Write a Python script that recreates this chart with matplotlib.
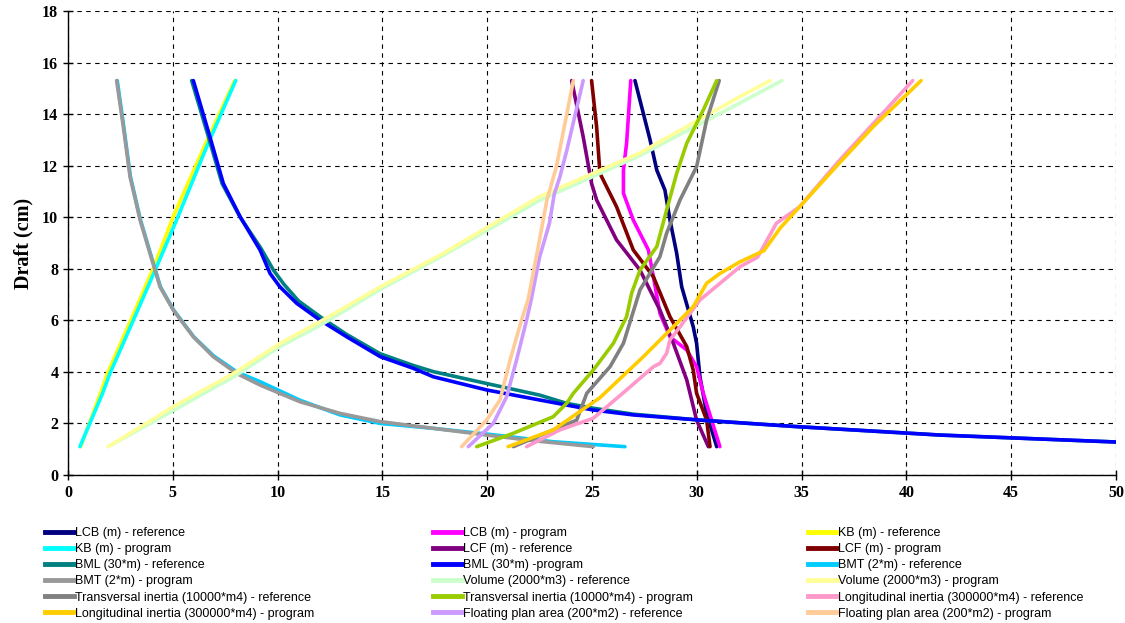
import matplotlib
matplotlib.use("Agg")
import matplotlib.pyplot as plt
from matplotlib.lines import Line2D

# ---- data (x value, draft) ----
lcb_ref_x = [27.05, 27.77, 28.09, 28.48, 28.72, 29.04, 29.28, 29.83, 29.99, 30.15, 30.47, 30.95]
lcb_ref_y = [15.3, 13.0, 11.83, 11.05, 9.89, 8.6, 7.3, 5.75, 5.11, 3.81, 2.39, 1.1]
lcb_prog_x = [26.85, 26.65, 26.5, 26.5, 26.97, 27.69, 27.93, 28.24, 28.72, 29.52, 29.99, 30.31, 31.1]
lcb_prog_y = [15.3, 12.87, 11.83, 10.93, 9.89, 8.73, 7.69, 6.27, 5.36, 4.85, 4.2, 3.17, 1.1]
kb_ref_x = [0.6, 1.55, 1.88, 3.0, 4.1, 5.02, 6.5, 7.95]
kb_ref_y = [1.1, 3.17, 3.94, 6.01, 8.08, 10.02, 12.74, 15.3]
kb_prog_x = [0.57, 1.65, 2.0, 3.12, 4.23, 5.18, 6.62, 8.0]
kb_prog_y = [1.1, 3.17, 3.94, 6.01, 8.08, 9.89, 12.74, 15.3]
lcf_ref_x = [24.03, 24.58, 24.98, 25.22, 26.17, 27.29, 28.24, 28.88, 29.52, 29.99, 30.55]
lcf_ref_y = [15.3, 13.12, 11.31, 10.67, 9.12, 7.95, 6.4, 5.11, 3.69, 2.13, 1.1]
lcf_prog_x = [24.98, 25.22, 25.38, 26.17, 26.97, 27.93, 28.72, 29.52, 29.83, 29.99, 30.47, 30.63]
lcf_prog_y = [15.3, 13.51, 11.7, 10.41, 8.73, 7.69, 6.14, 4.98, 4.07, 3.17, 2.13, 1.1]
bml_ref_x = [5.9, 6.7, 7.35, 8.2, 9.2, 9.8, 10.3, 11.0, 12.1, 13.3, 14.9, 16.47, 17.43, 19.97, 22.5, 23.79, 25.06, 26.97, 30.15, 34.9, 41.6, 50.0]
bml_ref_y = [15.3, 13.12, 11.31, 10.02, 8.8, 7.95, 7.4, 6.75, 6.1, 5.45, 4.7, 4.25, 4.01, 3.55, 3.1, 2.78, 2.59, 2.36, 2.13, 1.87, 1.55, 1.28]
bml_prog_x = [5.98, 6.77, 7.41, 8.21, 9.16, 9.64, 10.11, 10.91, 12.02, 13.3, 14.9, 16.47, 17.43, 19.97, 22.5, 25.06, 26.97, 30.15, 34.9, 41.6, 50.0]
bml_prog_y = [15.3, 13.12, 11.31, 10.02, 8.73, 7.82, 7.3, 6.66, 6.01, 5.36, 4.59, 4.14, 3.81, 3.3, 2.91, 2.52, 2.33, 2.13, 1.87, 1.55, 1.28]
bmt_ref_x = [2.35, 2.66, 2.98, 3.46, 3.93, 4.41, 5.04, 6.0, 6.95, 8.07, 9.16, 11.07, 12.98, 14.9, 17.43, 19.97, 23.15, 26.57]
bmt_ref_y = [15.3, 13.51, 11.57, 9.89, 8.6, 7.3, 6.4, 5.36, 4.62, 3.99, 3.62, 2.9, 2.33, 2.0, 1.81, 1.59, 1.29, 1.1]
bmt_prog_x = [2.32, 2.64, 2.96, 3.44, 3.91, 4.39, 5.02, 5.98, 6.93, 8.05, 9.16, 11.07, 12.98, 14.9, 17.43, 19.97, 22.2, 25.06]
bmt_prog_y = [15.3, 13.51, 11.57, 9.89, 8.6, 7.3, 6.4, 5.36, 4.59, 3.94, 3.49, 2.84, 2.39, 2.07, 1.81, 1.55, 1.33, 1.1]
vol_ref_x = [1.92, 5.02, 7.89, 10.11, 12.02, 14.9, 17.75, 22.5, 27.3, 32.1, 34.06]
vol_ref_y = [1.1, 2.5, 3.8, 4.98, 5.8, 7.2, 8.45, 10.65, 12.4, 14.45, 15.3]
vol_prog_x = [1.92, 5.02, 7.89, 10.11, 12.02, 14.9, 17.75, 22.5, 27.3, 32.1, 33.5]
vol_prog_y = [1.1, 2.65, 3.94, 5.1, 5.95, 7.3, 8.53, 10.8, 12.5, 14.7, 15.3]
tin_ref_x = [31.07, 30.47, 29.99, 29.2, 28.56, 28.24, 27.29, 26.5, 25.86, 24.75, 24.27, 23.15, 21.25]
tin_ref_y = [15.3, 13.77, 11.96, 10.67, 9.38, 8.47, 7.18, 5.11, 4.2, 3.17, 2.13, 1.75, 1.1]
tin_prog_x = [30.95, 30.31, 29.52, 29.04, 28.56, 28.09, 27.29, 26.89, 26.65, 26.02, 25.06, 24.11, 23.79, 23.15, 21.25, 19.5]
tin_prog_y = [15.3, 14.16, 12.87, 11.7, 10.28, 8.86, 7.95, 7.05, 6.14, 5.11, 4.07, 3.17, 2.78, 2.26, 1.62, 1.1]
lin_ref_x = [21.88, 23.47, 25.06, 26.65, 27.93, 28.24, 28.56, 28.72, 29.2, 30.15, 32.06, 32.9, 33.8, 34.9, 36.8, 40.3]
lin_ref_y = [1.1, 1.75, 2.2, 3.3, 4.2, 4.33, 4.72, 5.24, 5.75, 6.79, 8.08, 8.45, 9.77, 10.4, 12.2, 15.3]
lin_prog_x = [21.0, 23.15, 25.38, 27.45, 28.88, 29.83, 30.47, 31.11, 32.06, 33.2, 34.0, 34.9, 36.8, 38.4, 40.7]
lin_prog_y = [1.1, 1.75, 3.0, 4.59, 5.75, 6.53, 7.44, 7.82, 8.27, 8.7, 9.6, 10.4, 12.1, 13.5, 15.3]
fpa_ref_x = [19.1, 20.29, 20.93, 21.4, 21.88, 22.1, 22.5, 22.97, 23.2, 23.47, 23.8, 24.58]
fpa_ref_y = [1.1, 2.0, 3.04, 4.46, 6.01, 6.8, 8.45, 9.77, 10.9, 11.57, 12.6, 15.3]
fpa_prog_x = [18.78, 19.97, 20.61, 21.09, 21.64, 21.95, 22.4, 22.85, 23.3, 24.11]
fpa_prog_y = [1.1, 2.13, 2.91, 4.46, 6.01, 6.8, 8.7, 10.67, 11.95, 15.3]

labels = [
    "LCB (m) - reference", "LCB (m) - program", "KB (m) - reference",
    "KB (m) - program", "LCF (m) - reference", "LCF (m) - program",
    "BML (30*m) - reference", "BML (30*m) -program", "BMT (2*m) - reference",
    "BMT (2*m) - program", "Volume (2000*m3) - reference", "Volume (2000*m3) - program",
    "Transversal inertia (10000*m4) - reference", "Transversal inertia (10000*m4) - program",
    "Longitudinal inertia (300000*m4) - reference",
    "Longitudinal inertia (300000*m4) - program", "Floating plan area (200*m2) - reference",
    "Floating plan area (200*m2) - program",
]
colors = [
    "#000080", "#FF00FF", "#FFFF00", "#00FFFF", "#800080", "#800000",
    "#008080", "#0000FF", "#00CCFF", "#999999", "#CCFFCC", "#FFFF99",
    "#808080", "#99CC00", "#FF99CC", "#FFCC00", "#CC99FF", "#FFCC99",
]
series = [
    (lcb_ref_x, lcb_ref_y), (lcb_prog_x, lcb_prog_y), (kb_ref_x, kb_ref_y),
    (kb_prog_x, kb_prog_y), (lcf_ref_x, lcf_ref_y), (lcf_prog_x, lcf_prog_y),
    (bml_ref_x, bml_ref_y), (bml_prog_x, bml_prog_y), (bmt_ref_x, bmt_ref_y),
    (bmt_prog_x, bmt_prog_y), (vol_ref_x, vol_ref_y), (vol_prog_x, vol_prog_y),
    (tin_ref_x, tin_ref_y), (tin_prog_x, tin_prog_y), (lin_ref_x, lin_ref_y),
    (lin_prog_x, lin_prog_y), (fpa_ref_x, fpa_ref_y), (fpa_prog_x, fpa_prog_y),
]

fig = plt.figure(figsize=(11.25, 6.23), dpi=100)
ax = fig.add_axes([68 / 1125, 1 - 475 / 623, (1116 - 68) / 1125, (475 - 11) / 623])

for (xs, ys), c, lab in zip(series, colors, labels):
    ax.plot(xs, ys, color=c, lw=2.6, label=lab,
            solid_joinstyle="round", solid_capstyle="round", clip_on=True)

ax.set_xlim(0, 50)
ax.set_ylim(0, 18)
ax.set_xticks(range(0, 51, 5))
ax.set_yticks(range(0, 19, 2))
ax.grid(True, color="black", linestyle=(0, (4, 4)), linewidth=0.8)
ax.set_axisbelow(True)
for s in ["top", "right"]:
    ax.spines[s].set_visible(False)
for s in ["left", "bottom"]:
    ax.spines[s].set_linewidth(1.0)

serif = ["Liberation Serif", "DejaVu Serif"]
ax.tick_params(direction="inout", length=7, width=1)
for lab in ax.get_xticklabels() + ax.get_yticklabels():
    lab.set_fontfamily(serif)
    lab.set_fontweight("bold")
    lab.set_fontsize(11.5)
ax.set_ylabel("Draft (cm)", fontfamily=serif, fontweight="bold", fontsize=14.5, labelpad=6)

# legend: three columns placed explicitly, row-major order
leg_font = {"family": ["Liberation Sans Narrow", "Liberation Sans", "DejaVu Sans"], "size": 9}
col_x = [45 / 1125, 433 / 1125, 808 / 1125]
for ci in range(3):
    hs = [Line2D([], [], color=colors[i], lw=3.5) for i in range(ci, 18, 3)]
    ls = [labels[i] for i in range(ci, 18, 3)]
    fig.legend(hs, ls, loc="upper left", bbox_to_anchor=(col_x[ci], 1 - 527 / 623),
               frameon=False, prop=leg_font, handlelength=2.3, handletextpad=0.1,
               labelspacing=0.33, borderpad=0.0, borderaxespad=0.0)

fig.savefig("out.png", dpi=100)
